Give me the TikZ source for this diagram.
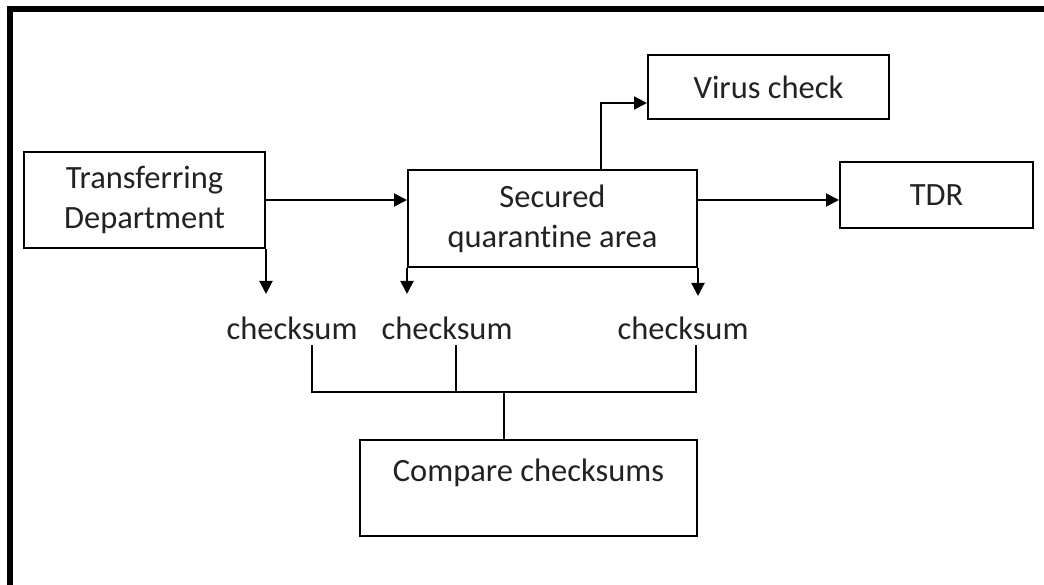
\documentclass[tikz,border=0pt]{standalone}
\usepackage{fontspec}
\setmainfont{Carlito}[Ligatures=NoCommon]
\usetikzlibrary{arrows.meta,calc}
\definecolor{ink}{HTML}{222222}
\begin{document}
\begin{tikzpicture}[x=1pt,y=-1pt,line width=2pt,
  txt/.style={font=\fontsize{32.5}{40}\selectfont,text=ink},
  box/.style={draw,inner sep=0pt,align=center,txt},
  lbl/.style={inner sep=0pt,txt},
  arr/.style={-{Triangle[length=13pt,width=13pt]}}]
\useasboundingbox (0,0) rectangle (1044,585);
% frame
\fill (7,6) rectangle (1044,12);
\fill (7,6) rectangle (13,585);

% boxes
\node[box,minimum width=241,minimum height=96] (td) at (144.5,200) {Transferring\\Department};
\node[box,minimum width=289,minimum height=97] (sq) at (552.5,218.5) {Secured\\quarantine area};
\node[box,minimum width=241,minimum height=64] (vc) at (768.5,87) {Virus check};
\node[box,minimum width=193,minimum height=66] (tdr) at (936.5,195) {TDR};
\node[box,minimum width=337,minimum height=96] (cmp) at (528.5,488) {};
\node[lbl] (cmptxt) at (528.5,473) {Compare checksums};

% checksum labels
\node[lbl] (cs1) at (292,328) {checksum};
\node[lbl] (cs2) at (447,328) {checksum};
\node[lbl] (cs3) at (683,328) {checksum};

% flow arrows
\draw[arr] (td.east) -- (td.east -| sq.west);
\draw[arr] (sq.east |- td.east) -- (tdr.west |- td.east);
\draw[arr] ($(sq.north)+(48.5,0)$) |- ($(vc.west)+(0,16)$);
\draw[arr] (td.south east) -- ++(0,45);
\draw[arr] (sq.south west) -- ++(0,26);
\draw[arr] (sq.south east) -- ++(0,28);

% joining bracket
\coordinate (t1) at (312,345);
\coordinate (t2) at (456,345);
\coordinate (t3) at (696,345);
\coordinate (b1) at (312,392);
\coordinate (b2) at (456,392);
\coordinate (b3) at (696,392);
\coordinate (j) at (504,392);
\draw (t1) -- (b1) -- (b3) -- (t3);
\draw (t2) -- (b2);
\draw (j) -- (j |- cmp.north);
\end{tikzpicture}
\end{document}
